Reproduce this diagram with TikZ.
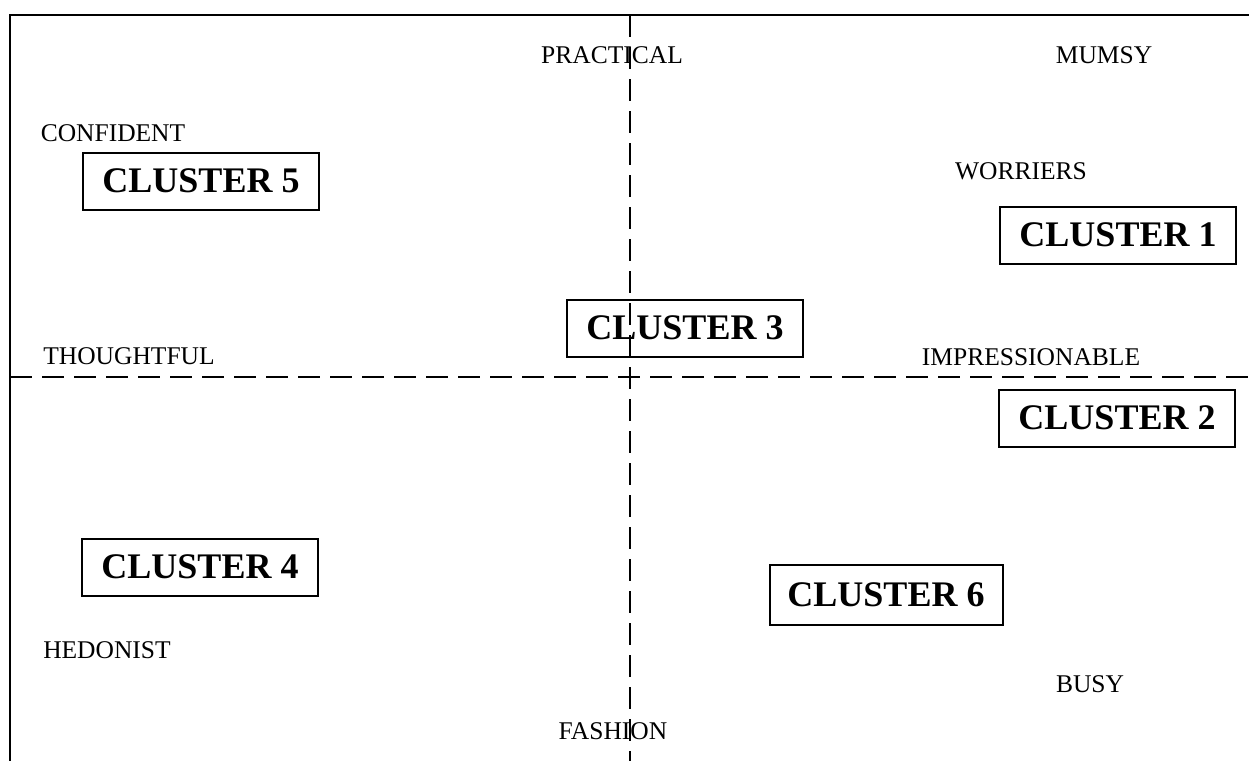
\documentclass[tikz,border=0pt]{standalone}
\usepackage{fontspec}
\setmainfont{Liberation Serif}
\begin{document}
\begin{tikzpicture}[x=1pt,y=-1pt,
  lbl/.style={font=\fontsize{25.5}{27}\selectfont, inner sep=0pt},
  cbox/.style={draw, line width=2pt, font=\bfseries\fontsize{36}{38}\selectfont, minimum width=236pt, minimum height=57pt, inner sep=0pt, fill=white},
  axis/.style={line width=2pt, dash pattern=on 22pt off 10pt},
  frame/.style={line width=2pt}]
\useasboundingbox (0,0) rectangle (1249,761);
\coordinate (tl) at (10,15);
\coordinate (tr) at (1249,15);
\coordinate (bl) at (10,761);
\coordinate (vt) at (630,15);
\coordinate (vb) at (630,761);
\coordinate (hl) at (10,377);
\coordinate (hr) at (1249,377);
\draw[frame] (tr) -- (tl) -- (bl);
\draw[axis] (hl) -- (hr);
\node[cbox] (c5) at (201,181) {CLUSTER 5};
\node[cbox] (c1) at (1118,235) {CLUSTER 1};
\node[cbox, fill=none] (c3) at (685,328) {CLUSTER 3};
\node[cbox] (c2) at (1117,418) {CLUSTER 2};
\node[cbox] (c4) at (200,567) {CLUSTER 4};
\node[cbox, minimum width=233pt, minimum height=60pt] (c6) at (886,595) {CLUSTER 6};
\draw[axis] (vt) -- (vb);
\node[lbl] (practical) at (612,55) {PRACTICAL};
\node[lbl] (mumsy) at (1104,55) {MUMSY};
\node[lbl] (confident) at (113,133) {CONFIDENT};
\node[lbl] (worriers) at (1021,171) {WORRIERS};
\node[lbl] (thoughtful) at (129,356) {THOUGHTFUL};
\node[lbl] (impress) at (1031,357) {IMPRESSIONABLE};
\node[lbl] (hedonist) at (107,650) {HEDONIST};
\node[lbl] (busy) at (1090,684) {BUSY};
\node[lbl] (fashion) at (613,731) {FASHION};
\end{tikzpicture}
\end{document}
